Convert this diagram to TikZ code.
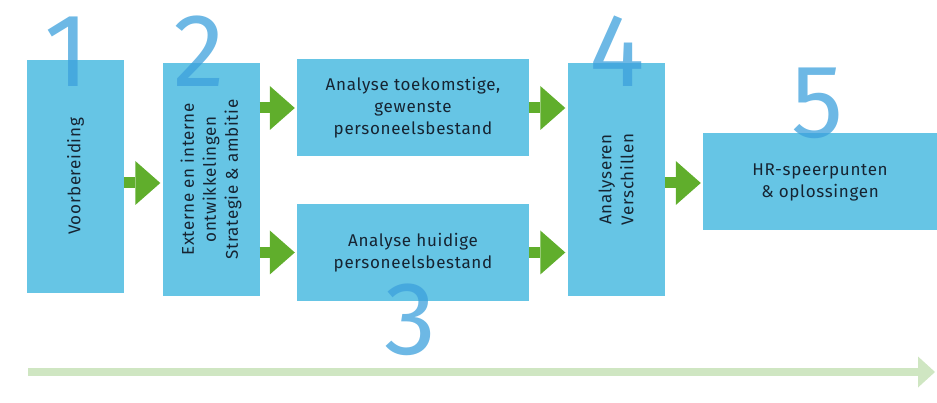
\documentclass[tikz,border=0pt]{standalone}
\usepackage{fontspec}
\setmainfont{Fira Sans}
\newfontfamily\labelfont[LetterSpace=4.0]{Fira Sans}
\usetikzlibrary{arrows.meta}
\definecolor{blauw}{RGB}{102,197,229}
\definecolor{groen}{RGB}{96,174,44}
\definecolor{lichtgroen}{RGB}{207,230,194}
\definecolor{donker}{RGB}{22,36,50}
\definecolor{cijferblauw}{RGB}{60,160,220}
\begin{document}
\begin{tikzpicture}[x=1pt,y=-1pt,
  blok/.style={fill=blauw, inner sep=0pt},
  tekst/.style={text=donker, align=center, font=\labelfont\fontsize{17}{22}\selectfont},
  pijl/.style={draw=groen, line width=11pt, shorten >=2pt,
    -{Triangle[length=25pt 0 0,width=44pt 0 0,line width=0pt 0]}},
  cijfer/.style={text=cijferblauw, text opacity=0.75, inner sep=0pt,
    font=\fontsize{104}{104}\selectfont}]
  \pgfmathsetmacro{\smal}{97}
  \pgfmathsetmacro{\hoog}{233}
  \pgfmathsetmacro{\breed}{232}
  \pgfmathsetmacro{\laag}{97}
  \useasboundingbox (0,0) rectangle (937,403);
  % blokken
  \node[blok, minimum width=\smal pt, minimum height=\hoog pt] (voor) at (75.5,176.5) {};
  \node[tekst, rotate=90] (tvoor) at (voor) {Voorbereiding};
  \node[blok, minimum width=\smal pt, minimum height=\hoog pt] (ontw) at (211,179.5) {};
  \node[tekst, rotate=90] (tontw) at (ontw) {Externe en interne\\ontwikkelingen\\Strategie \& ambitie};
  \node[blok, tekst, minimum width=\breed pt, minimum height=\laag pt] (toek) at (413,108)
    {Analyse toekomstige,\\gewenste\\personeelsbestand};
  \node[blok, tekst, minimum width=\breed pt, minimum height=\laag pt] (huid) at (413,252.5)
    {Analyse huidige\\personeelsbestand};
  \node[blok, minimum width=\smal pt, minimum height=\hoog pt] (versch) at (616,179.5) {};
  \node[tekst, rotate=90] (tversch) at (versch) {Analyseren\\Verschillen};
  \node[blok, tekst, minimum width=234pt, minimum height=\laag pt] (hr) at (820,182)
    {HR-speerpunten\\\& oplossingen};
  % pijlen
  \draw[pijl] ([yshift=-6.5pt]voor.east) -- ([yshift=-6.5pt]voor.east -| ontw.west);
  \draw[pijl] (toek.west -| ontw.east) -- (toek.west);
  \draw[pijl] (huid.west -| ontw.east) -- (huid.west);
  \draw[pijl] (toek.east) -- (toek.east -| versch.west);
  \draw[pijl] (huid.east) -- (huid.east -| versch.west);
  \draw[pijl] ([yshift=-1pt]hr.west -| versch.east) -- ([yshift=-1pt]hr.west);
  % tijdlijn
  \coordinate (tijdbegin) at (28,372);
  \coordinate (tijdeind) at (935,372);
  \draw[lichtgroen, line width=8pt,
    -{Triangle[length=17pt 0 0,width=31pt 0 0,line width=0pt 0]}] (tijdbegin) -- (tijdeind);
  % stappen
  \foreach \n/\x/\y in {1/67/52, 2/199/51, 3/410/320, 4/617/51, 5/818/103}
    \node[cijfer] (stap\n) at (\x,\y) {\n};
\end{tikzpicture}
\end{document}
